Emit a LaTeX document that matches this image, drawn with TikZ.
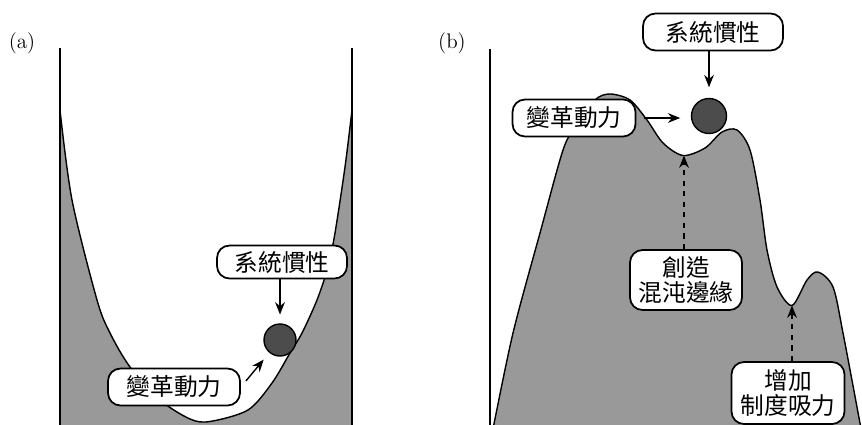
\documentclass[tikz,border=0pt]{standalone}
\usepackage{fontspec}
\newfontfamily\cjk{Noto Sans CJK TC}
\usetikzlibrary{arrows.meta}

\begin{document}
\begin{tikzpicture}[
    bubble/.style={draw, line width=1pt, fill=white, rounded corners=0.25cm, align=center,
        inner sep=0pt, font=\cjk\fontsize{13.5}{14.5}\selectfont},
    ball/.style={circle, draw, line width=0.8pt, fill=black!70, inner sep=0pt},
    ground/.style={fill=black!40, line width=0.8pt},
    push/.style={-{Stealth[length=7pt, width=5.5pt]}, line width=0.8pt},
    hint/.style={push, dashed}
]
    \useasboundingbox (0,0) rectangle (17.24,8.48);
    % (a) the valley
    \node[font=\large] (taga) at (0.44,7.62) {(a)};
    \filldraw[ground] (1.2,-0.2) -- plot[smooth] coordinates {(1.2,6.28) (1.44,4.48) (1.94,2.48)
        (2.2,1.82) (2.6,1.14) (3.2,0.48) (3.8,0.1) (4.2,0.05) (4.96,0.28) (5.44,0.82) (5.8,1.42)
        (6.04,1.82) (6.34,2.48) (6.56,3.14) (6.7,3.82) (6.9,5.14) (7.04,6.28)} -- (7.04,-0.2) -- cycle;
    \draw[line width=0.8pt] (1.2,7.52) -- (1.2,-0.2);
    \draw[line width=0.8pt] (7.04,7.52) -- (7.04,-0.2);
    \node[ball, minimum size=0.64cm] (balla) at (5.6,1.68) {};
    \node[bubble, minimum width=2.6cm, minimum height=0.66cm] (inertiaa) at (5.64,3.24) {系統慣性};
    \node[bubble, minimum width=2.64cm, minimum height=0.74cm] (forcea) at (3.48,0.74) {變革動力};
    \draw[push, shorten >=5pt] (inertiaa.south -| balla.north) -- (balla.north);
    \draw[push, shorten <=4.5pt, shorten >=5pt] (forcea.east) -- (balla);

    % (b) the rugged landscape
    \node[font=\large] (tagb) at (9.04,7.62) {(b)};
    \draw[line width=0.8pt] (9.8,7.5) -- (9.8,-0.2);
    \coordinate (valley1) at (13.68,5.37);
    \coordinate (valley2) at (15.84,2.37);
    \filldraw[ground] plot[smooth] coordinates {(9.84,-0.2) (10.26,1.82) (10.8,3.82) (11.26,5.48)
        (11.5,5.92) (11.9,6.48) (12.2,6.6) (12.6,6.48) (12.94,6.08) (13.26,5.62) (13.66,5.37)
        (14.1,5.52) (14.44,5.84) (14.74,5.88) (15.0,5.48) (15.2,4.48) (15.34,3.48) (15.54,2.74)
        (15.84,2.37) (16.14,2.88) (16.36,3.04) (16.66,2.74) (16.86,1.82) (17.24,-0.2)} -- cycle;
    \node[ball, minimum size=0.7cm] (ballb) at (14.18,6.16) {};
    \node[bubble, minimum width=2.8cm, minimum height=0.74cm] (inertiab) at (14.26,7.84) {系統慣性};
    \node[bubble, minimum width=2.46cm, minimum height=0.74cm] (forceb) at (11.48,6.12) {變革動力};
    \node[bubble, minimum width=2.24cm, minimum height=1.2cm] (chaos) at (13.72,2.88) {創造\\混沌邊緣};
    \node[bubble, minimum width=2.26cm, minimum height=1.24cm] (attract) at (15.76,0.62) {增加\\制度吸力};
    \draw[push, shorten >=6pt] (inertiab.south -| ballb.north) -- (ballb.north);
    \draw[push, shorten <=4.5pt, shorten >=6pt] (forceb.east) -- (forceb.east -| ballb.west);
    \draw[hint] (valley1 |- chaos.north) -- (valley1);
    \draw[hint] (valley2 |- attract.north) -- (valley2);
\end{tikzpicture}
\end{document}
